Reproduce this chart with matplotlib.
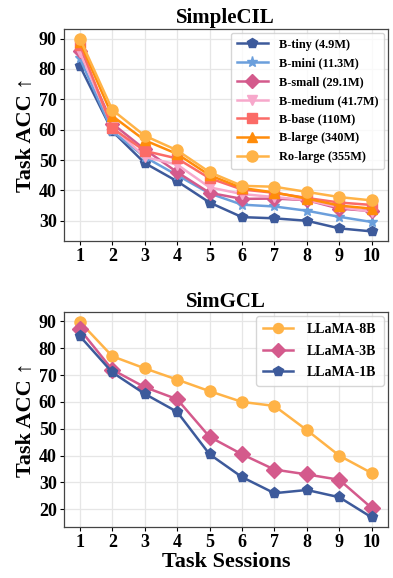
import matplotlib.pyplot as plt

plt.rcParams['font.family'] = ['Liberation Serif', 'DejaVu Serif']
plt.rcParams['font.weight'] = 'bold'

sessions = list(range(1, 11))

# SimpleCIL
cil_names = ['B-tiny (4.9M)', 'B-mini (11.3M)', 'B-small (29.1M)', 'B-medium (41.7M)',
             'B-base (110M)', 'B-large (340M)', 'Ro-large (355M)']
b_tiny = [81.0, 59.5, 49.0, 43.0, 36.0, 31.2, 30.8, 30.0, 27.5, 26.5]
b_mini = [83.5, 59.5, 51.0, 45.0, 39.0, 35.3, 34.7, 33.3, 31.3, 29.6]
b_small = [86.0, 62.0, 53.5, 46.0, 39.2, 37.2, 37.3, 36.8, 34.0, 33.2]
b_medium = [85.5, 61.0, 51.0, 48.5, 41.0, 38.8, 37.8, 36.8, 34.5, 33.0]
b_base = [88.0, 60.5, 53.0, 50.5, 44.0, 40.3, 39.2, 37.5, 36.0, 35.2]
b_large = [89.0, 64.5, 56.5, 52.0, 45.0, 40.8, 39.3, 37.3, 35.0, 34.0]
ro_large = [90.0, 66.5, 58.0, 53.2, 46.0, 41.5, 41.2, 39.5, 37.8, 36.7]
cil_vals = [b_tiny, b_mini, b_small, b_medium, b_base, b_large, ro_large]
cil_colors = ['#3d5a9b', '#6b9fdc', '#d45a8c', '#f7a8cb', '#fb6b67', '#ff8c0a', '#ffb347']
cil_markers = ['p', '*', 'D', 'v', 's', '^', 'o']
cil_ms = [7, 8, 7, 7, 7, 7, 8]

# SimGCL
gcl_names = ['LLaMA-8B', 'LLaMA-3B', 'LLaMA-1B']
llama_8b = [89.8, 77.0, 72.5, 68.3, 64.0, 60.0, 58.5, 49.5, 40.0, 33.5]
llama_3b = [87.0, 72.0, 65.5, 61.0, 47.0, 40.5, 34.8, 33.0, 31.0, 20.5]
llama_1b = [84.5, 71.0, 63.0, 56.3, 40.5, 32.0, 26.0, 27.2, 24.5, 17.0]
gcl_vals = [llama_8b, llama_3b, llama_1b]
gcl_colors = ['#ffb347', '#d45a8c', '#3d5a9b']
gcl_markers = ['o', 'D', 'p']

fig = plt.figure(figsize=(3.93, 5.78), dpi=100)
ax1 = fig.add_axes([0.162, 0.583, 0.825, 0.367])
ax2 = fig.add_axes([0.162, 0.088, 0.825, 0.372])

for vals, name, c, m, ms in zip(cil_vals, cil_names, cil_colors, cil_markers, cil_ms):
    ax1.plot(sessions, vals, color=c, marker=m, markersize=ms, linewidth=1.8, label=name)
for vals, name, c, m in zip(gcl_vals, gcl_names, gcl_colors, gcl_markers):
    ax2.plot(sessions, vals, color=c, marker=m, markersize=8, linewidth=1.8, label=name)

ax1.set_yticks([30, 40, 50, 60, 70, 80, 90])
ax2.set_yticks([20, 30, 40, 50, 60, 70, 80, 90])
ax1.set_title('SimpleCIL', fontsize=15, fontweight='bold', pad=4)
ax2.set_title('SimGCL', fontsize=15, fontweight='bold', pad=4)
ax2.set_xlabel('Task Sessions', fontsize=16, fontweight='bold', labelpad=1)

for ax in (ax1, ax2):
    ax.set_xlim(0.5, 10.5)
    ax.set_xticks(sessions)
    ax.set_ylabel('Task ACC ↑', fontsize=16, fontweight='bold', labelpad=2,
                  family=['Liberation Serif', 'DejaVu Sans'])
    ax.tick_params(labelsize=13, length=3, pad=2)
    ax.grid(True, color='#e6e6e6', linewidth=0.9)
    ax.set_axisbelow(True)
    for s in ax.spines.values():
        s.set_color('#444444')
        s.set_linewidth(0.9)

ax1.legend(loc='upper right', fontsize=8.8, frameon=True, edgecolor='#cccccc',
           handlelength=2.5, borderpad=0.5, labelspacing=0.55, handletextpad=0.9,
           borderaxespad=0.3)
ax2.legend(loc='upper right', fontsize=10, frameon=True, edgecolor='#cccccc',
           handlelength=2.2, borderpad=0.5, labelspacing=0.6, handletextpad=1.0,
           borderaxespad=0.3, markerscale=0.9)

fig.savefig('out.png', dpi=100)
